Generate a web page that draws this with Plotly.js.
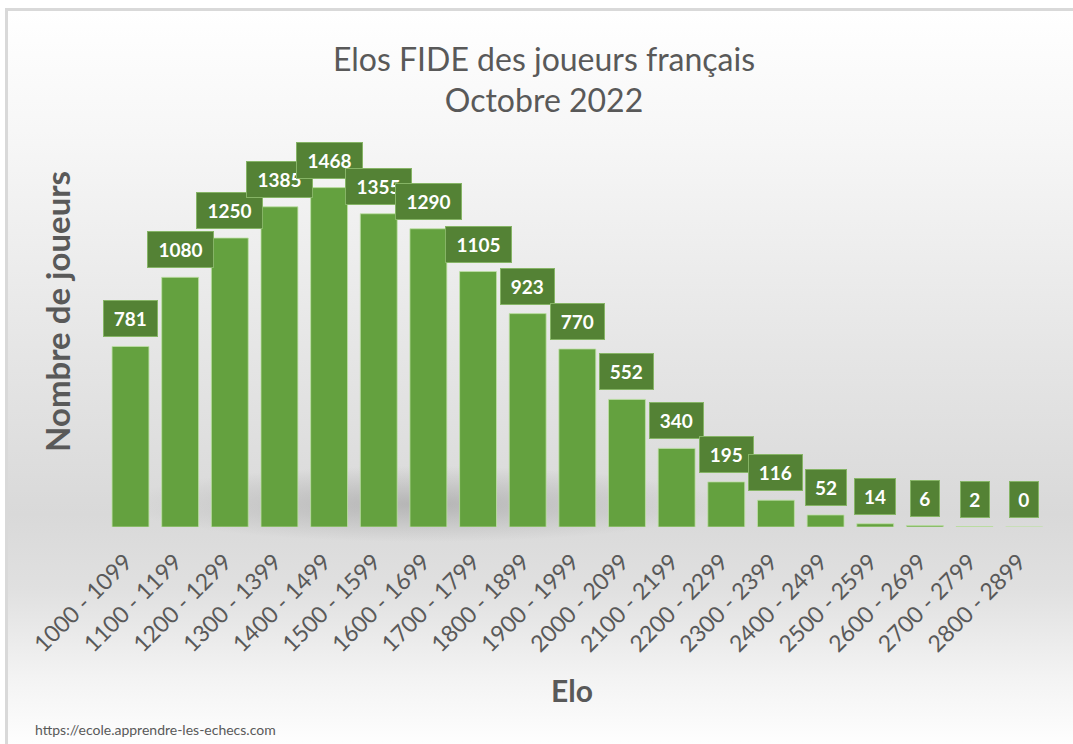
<!DOCTYPE html>
<html>
<head>
<meta charset="utf-8">
<script src="https://cdn.plot.ly/plotly-3.0.1.min.js"></script>
<style>
  html, body { margin: 0; padding: 0; background: #ffffff; width: 1073px; height: 744px; overflow: hidden; }
  #frame {
    position: absolute; left: 5px; top: 8px; width: 1080px; height: 740px;
    border-top: 3px solid #d9d9d9; border-left: 3px solid #d9d9d9;
    background:
      radial-gradient(ellipse 300px 38px at 415px 493px, rgba(150,150,150,0.55), rgba(150,150,150,0) 100%),
      linear-gradient(to bottom, #ffffff 0%, #f6f6f6 18%, #e6e6e6 45%, #d9d9d9 68%, #e0e0e0 78%, #f3f3f3 90%, #ffffff 100%);
  }
  #chart { position: absolute; left: 0; top: 0; width: 1073px; height: 744px; }
</style>
</head>
<body>
<div id="frame"></div>
<div id="chart"></div>
<script>
const categories = ["1000 - 1099","1100 - 1199","1200 - 1299","1300 - 1399","1400 - 1499","1500 - 1599","1600 - 1699","1700 - 1799","1800 - 1899","1900 - 1999","2000 - 2099","2100 - 2199","2200 - 2299","2300 - 2399","2400 - 2499","2500 - 2599","2600 - 2699","2700 - 2799","2800 - 2899"];
const players = [781, 1080, 1250, 1385, 1468, 1355, 1290, 1105, 923, 770, 552, 340, 195, 116, 52, 14, 6, 2, 0];
const chartTitle = "Elos FIDE des joueurs français<br>Octobre 2022";
const xTitle = "Elo";
const yTitle = "Nombre de joueurs";
const sourceText = "https://ecole.apprendre-les-echecs.com";

const FONT = "Lato, 'Open Sans', sans-serif";
const GREY = "#595959";

const labelAnns = categories.map((c, i) => {
  const t = String(players[i]);
  return {
    x: c, y: players[i], xref: "x", yref: "y",
    text: "<b>" + t + "</b>", showarrow: false,
    yanchor: "bottom", yshift: 9,
    font: { family: FONT, size: 19, color: "#ffffff" },
    bgcolor: "#548235", bordercolor: "#86b466", borderwidth: 1, borderpad: 4,
    width: 12.5 * t.length + 7, height: 27
  };
});

const PW = 946;
const extraAnns = [
  { text: "<b>" + yTitle + "</b>", xref: "paper", yref: "paper", x: (57 - 103) / PW, y: 0.5556,
    textangle: -90, showarrow: false, xanchor: "center", yanchor: "middle",
    font: { family: FONT, size: 33, color: GREY } },
  { text: "<b>" + xTitle + "</b>", xref: "paper", yref: "paper", x: (572 - 103) / PW, y: -0.4212,
    showarrow: false, xanchor: "center", yanchor: "middle",
    font: { family: FONT, size: 30, color: GREY } },
  { text: sourceText, xref: "paper", yref: "paper", x: (33 - 103) / PW, y: (527 - 729) / 387,
    showarrow: false, xanchor: "left", yanchor: "middle",
    font: { family: FONT, size: 14, color: GREY } }
];

const data = [{
  type: "bar",
  x: categories,
  y: players,
  marker: { color: "#64a13f", line: { color: "rgba(190,225,165,0.8)", width: 1 } },
  hoverinfo: "x+y"
}];

const layout = {
  width: 1073, height: 744,
  paper_bgcolor: "rgba(0,0,0,0)", plot_bgcolor: "rgba(0,0,0,0)",
  margin: { l: 103, r: 24, t: 140, b: 217 },
  title: { text: chartTitle, xref: "container", yref: "container", x: 0.507, y: 0.905, yanchor: "top",
           font: { family: FONT, size: 32, color: GREY } },
  bargap: 0.257,
  showlegend: false,
  xaxis: {
    type: "category", tickangle: -45, showgrid: false, zeroline: false, showline: false, ticks: "",
    ticklabelstandoff: 16, ticklabelshift: -5,
    tickfont: { family: FONT, size: 23, color: GREY }
  },
  yaxis: { visible: false, range: [0, 1674], showgrid: false, zeroline: false },
  annotations: labelAnns.concat(extraAnns)
};

Plotly.newPlot("chart", data, layout, { displayModeBar: false, staticPlot: true });
</script>
</body>
</html>
